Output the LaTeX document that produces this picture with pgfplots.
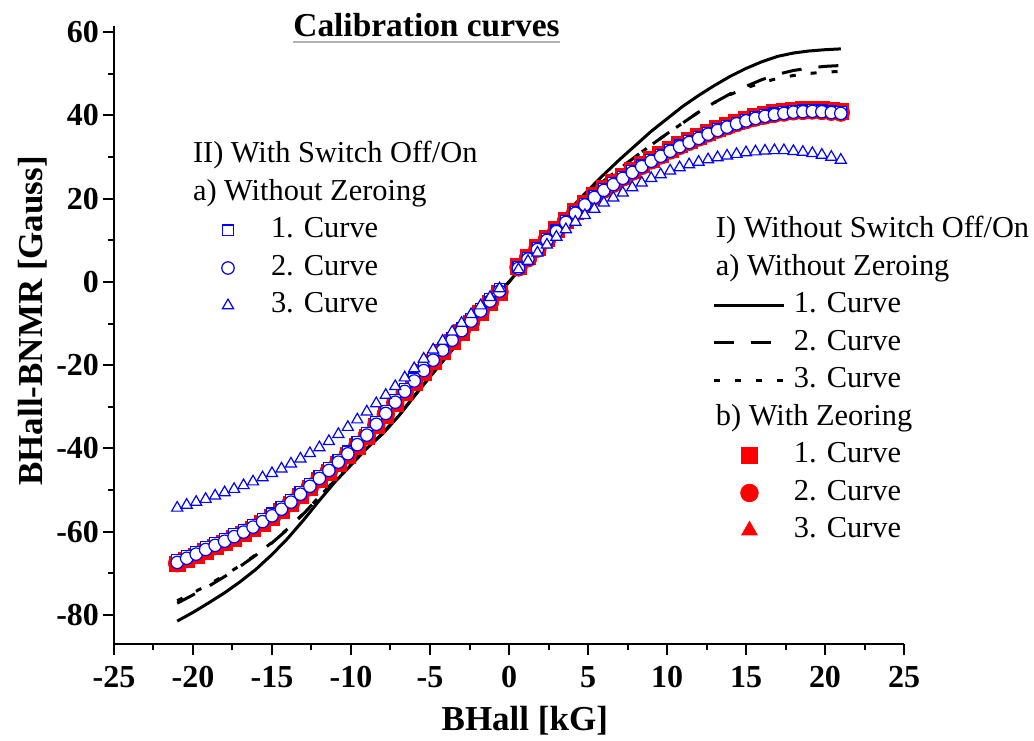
\documentclass[border=0pt]{standalone}
\usepackage{fontspec}
\setmainfont{Liberation Serif}
\usepackage{pgfplots}
\usepackage{pgfplotstable}
\pgfplotsset{compat=1.18}

\pgfplotstableread{
x c1 c2 c3
-21 -81.5 -77.2 -76.6
-20 -79.4 -75.2 -74.7
-19 -77.1 -73.1 -72.7
-18 -74.7 -70.8 -70.5
-17 -72.0 -68.3 -68.1
-16 -69.0 -65.6 -65.5
-15 -65.5 -62.7 -62.6
-14 -61.6 -59.4 -59.3
-13 -57.2 -55.7 -55.6
-12 -52.5 -51.6 -51.6
-11 -48.0 -47.6 -47.6
-10 -44.0 -43.8 -43.8
-9 -40.0 -39.9 -39.9
-8 -36.5 -36.4 -36.4
-7 -32.3 -32.2 -32.2
-6 -27.5 -27.4 -27.4
-5 -22.8 -22.7 -22.7
-4 -18.2 -18.1 -18.1
-3 -13.6 -13.5 -13.5
-2 -9.0 -9.0 -9.0
-1 -4.5 -4.5 -4.5
0 0 0 0
1 4.5 4.5 4.5
2 9.0 9.0 9.0
3 13.5 13.4 13.4
4 18.0 17.7 17.7
5 22.0 21.2 21.2
6 25.8 24.3 24.3
7 29.4 27.2 27.2
8 32.8 30.1 30.1
9 36.2 32.9 32.9
10 39.2 35.6 35.6
11 42.2 38.2 38.2
12 44.8 40.8 40.8
13 47.2 43.1 43.1
14 49.4 45.2 45.0
15 51.3 47.0 46.6
16 52.9 48.6 47.9
17 54.2 49.9 48.9
18 55.0 50.8 49.6
19 55.5 51.4 50.1
20 55.8 51.8 50.4
21 56.0 52.0 50.6
}\linedata

\pgfplotstableread{
x r1 r2 r3 b1 b2 b3
-21.0 -67.8 -67.6 -68.3 -66.8 -67.4 -54.3
-20.4 -66.8 -66.6 -67.3 -65.8 -66.4 -53.6
-19.8 -65.8 -65.6 -66.3 -64.8 -65.4 -52.9
-19.2 -64.7 -64.5 -65.2 -63.7 -64.3 -52.2
-18.6 -63.7 -63.5 -64.2 -62.7 -63.3 -51.4
-18.0 -62.7 -62.5 -63.2 -61.7 -62.3 -50.6
-17.4 -61.6 -61.4 -62.1 -60.6 -61.2 -49.8
-16.8 -60.5 -60.3 -61.0 -59.5 -60.1 -48.9
-16.2 -59.3 -59.1 -59.8 -58.3 -58.9 -48.0
-15.6 -58.0 -57.8 -58.5 -57.0 -57.6 -47.0
-15.0 -56.6 -56.4 -57.1 -55.6 -56.2 -46.0
-14.4 -55.0 -54.8 -55.5 -54.0 -54.6 -44.9
-13.8 -53.3 -53.1 -53.8 -52.3 -52.9 -43.7
-13.2 -51.4 -51.2 -51.9 -50.4 -51.0 -42.5
-12.6 -49.5 -49.3 -50.0 -48.5 -49.1 -41.2
-12.0 -47.6 -47.4 -48.1 -46.6 -47.2 -39.8
-11.4 -45.7 -45.5 -46.2 -44.7 -45.3 -38.3
-10.8 -43.7 -43.5 -44.2 -42.7 -43.3 -36.6
-10.2 -41.7 -41.5 -42.2 -40.7 -41.3 -34.9
-9.6 -39.5 -39.3 -40.0 -38.5 -39.1 -33.1
-9.0 -37.2 -37.0 -37.7 -36.2 -36.8 -31.2
-8.4 -34.6 -34.4 -35.1 -33.6 -34.2 -29.2
-7.8 -32.0 -31.8 -32.5 -31.0 -31.6 -27.2
-7.2 -29.3 -29.1 -29.8 -28.3 -28.9 -25.1
-6.6 -26.7 -26.5 -27.2 -25.7 -26.3 -23.0
-6.0 -24.2 -24.0 -24.7 -23.2 -23.8 -20.8
-5.4 -21.7 -21.5 -22.2 -20.7 -21.3 -18.5
-4.8 -19.2 -19.0 -19.7 -18.2 -18.8 -16.3
-4.2 -16.8 -16.6 -17.3 -15.8 -16.4 -14.2
-3.6 -14.4 -14.2 -14.9 -13.4 -14.0 -12.0
-3.0 -12.1 -11.9 -12.6 -11.1 -11.7 -9.9
-2.4 -9.8 -9.6 -10.3 -8.8 -9.4 -7.8
-1.8 -7.4 -7.2 -7.9 -6.4 -7.0 -5.7
-1.2 -5.0 -4.8 -5.5 -4.0 -4.6 -3.7
-0.6 -2.6 -2.4 -3.1 -1.6 -2.2 -1.6
0.6 3.8 3.5 3.0 3.6 3.3 3.0
1.2 6.0 5.7 5.2 5.8 5.5 5.0
1.8 8.3 8.0 7.5 8.1 7.8 7.0
2.4 10.5 10.2 9.7 10.3 10.0 8.9
3.0 12.6 12.3 11.8 12.4 12.1 10.8
3.6 14.8 14.5 14.0 14.6 14.3 12.6
4.2 17.0 16.7 16.2 16.8 16.5 14.4
4.8 19.0 18.7 18.2 18.8 18.5 16.0
5.4 20.8 20.5 20.0 20.6 20.3 17.5
6.0 22.5 22.2 21.7 22.3 22.0 19.0
6.6 23.9 23.6 23.1 23.7 23.4 20.2
7.2 25.4 25.1 24.6 25.2 24.9 21.4
7.8 26.8 26.5 26.0 26.6 26.3 22.7
8.4 28.2 27.9 27.4 28.0 27.7 23.8
9.0 29.5 29.2 28.7 29.3 29.0 24.9
9.6 30.7 30.4 29.9 30.5 30.2 25.8
10.2 31.9 31.6 31.1 31.7 31.4 26.7
10.8 33.0 32.7 32.2 32.8 32.5 27.5
11.4 34.0 33.7 33.2 33.8 33.5 28.2
12.0 35.0 34.7 34.2 34.8 34.5 28.8
12.6 36.0 35.7 35.2 35.8 35.5 29.4
13.2 36.9 36.6 36.1 36.7 36.4 29.9
13.8 37.7 37.4 36.9 37.5 37.2 30.3
14.4 38.5 38.2 37.7 38.3 38.0 30.7
15.0 39.2 38.9 38.4 39.0 38.7 31.1
15.6 39.8 39.5 39.0 39.6 39.3 31.3
16.2 40.3 40.0 39.5 40.1 39.8 31.5
16.8 40.7 40.4 39.9 40.5 40.2 31.6
17.4 41.0 40.7 40.2 40.8 40.5 31.6
18.0 41.3 41.0 40.5 41.1 40.8 31.4
18.6 41.4 41.1 40.6 41.2 40.9 31.2
19.2 41.5 41.2 40.7 41.3 41.0 30.9
19.8 41.4 41.1 40.6 41.2 40.9 30.5
20.4 41.2 40.9 40.4 41.0 40.7 30.0
21.0 41.0 40.7 40.2 40.8 40.5 29.3
}\markdata

\pgfplotsset{
  base/.style={
    scale only axis, width=395pt, height=309pt,
    xmin=-25, xmax=25, ymin=-87, ymax=61.5,
    clip mode=individual,
    legend cell align=left,
    legend image code/.code={%
      \path[draw=none] (0pt,0pt) -- (35pt,0pt);
      \draw[##1] (0pt,0pt) -- (35pt,0pt);},
  },
  mleg/.style={
    legend image code/.code={%
      \path[draw=none] (0pt,0pt) -- (35pt,0pt);
      \path[mark repeat=2,mark phase=2,##1,draw=none] plot coordinates {(0pt,0pt) (17.5pt,0pt) (35pt,0pt)};},
  },
  lgd/.style={
    draw=none, fill=none, inner sep=0pt, outer sep=0pt,
    row sep=4.25pt, column sep=4pt,
    nodes={inner sep=0pt, text height=11pt, text depth=3.5pt,
      font=\fontsize{15.2}{18}\selectfont},
  },
}
\newcommand{\hdr}[1]{\hspace*{-39pt}#1}

\begin{document}
\begin{tikzpicture}
\begin{axis}[base,
  axis x line*=bottom, axis y line*=left,
  axis line style={line width=1pt, black},
  tick align=outside,
  xtick={-25,-20,...,25}, ytick={-80,-60,...,60},
  minor x tick num=1, minor y tick num=1,
  major tick length=5.5pt, minor tick length=3pt,
  every tick/.style={line width=1pt, black},
  /pgf/number format/assume math mode=true,
  ticklabel style={font=\bfseries\fontsize{16}{16}\selectfont, inner sep=0pt},
  xticklabel shift=5.5pt, yticklabel shift=1.8pt,
  xlabel={BHall [kG]}, ylabel={BHall-BNMR [Gauss]},
  label style={font=\bfseries\fontsize{17.5}{18}\selectfont, inner sep=0pt},
  xlabel style={at={(axis description cs:0.520,-0.1392)}, anchor=base},
  ylabel style={at={(axis description cs:-0.0911,0.5227)}, anchor=base},
  legend style={lgd, at={(axis description cs:0.7582,0.6926)}, anchor=north west},
]
\addlegendimage{empty legend}\addlegendentry{\hdr{I) Without Switch Off/On}}
\addlegendimage{empty legend}\addlegendentry{\hdr{a) Without Zeroing}}
\addplot[black, line width=1.5pt] table[x=x,y=c1] {\linedata};
\addlegendentry{1. Curve}
\addplot[black, line width=1.5pt, dash pattern=on 10pt off 8.5pt] table[x=x,y=c2] {\linedata};
\addlegendentry{2. Curve}
\addplot[black, line width=1.5pt, dash pattern=on 3pt off 7.5pt] table[x=x,y=c3] {\linedata};
\addlegendentry{3. Curve}
\addlegendimage{empty legend}\addlegendentry{\hdr{b) With Zeoring}}
\addplot[mleg, only marks, red, mark=square*, mark size=3.9pt, mark options={draw=red, fill=red}] table[x=x,y=r1] {\markdata};
\addlegendentry{1. Curve}
\addplot[mleg, only marks, red, mark=*, mark size=4.4pt, mark options={draw=red, fill=red}] table[x=x,y=r2] {\markdata};
\addlegendentry{2. Curve}
\addplot[mleg, only marks, red, mark=triangle*, mark size=4.5pt, mark options={draw=red, fill=red}] table[x=x,y=r3] {\markdata};
\addlegendentry{3. Curve}
\node[font=\bfseries\fontsize{16.7}{18}\selectfont, inner sep=0pt, anchor=base] (ttl) at (axis description cs:0.3956,0.9822) {Calibration curves};
\draw[gray!60, line width=0.6pt] ([yshift=-2.5pt]ttl.base west) -- ([yshift=-2.5pt]ttl.base east);
\end{axis}
\begin{axis}[base, hide axis,
  legend style={lgd, at={(axis description cs:0.1,0.8139)}, anchor=north west},
]
\addlegendimage{empty legend}\addlegendentry{\hdr{II) With Switch Off/On}}
\addlegendimage{empty legend}\addlegendentry{\hdr{a) Without Zeroing}}
\addplot[mleg, only marks, blue, mark=square*, mark size=2.7pt, mark options={draw=blue, fill=white, line width=0.6pt}] table[x=x,y=b1] {\markdata};
\addlegendentry{1. Curve}
\addplot[mleg, only marks, blue, mark=*, mark size=3.1pt, mark options={draw=blue, fill=white, line width=0.6pt}] table[x=x,y=b2] {\markdata};
\addlegendentry{2. Curve}
\addplot[mleg, only marks, blue, mark=triangle*, mark size=3.2pt, mark options={draw=blue, fill=white, line width=0.6pt}] table[x=x,y=b3] {\markdata};
\addlegendentry{3. Curve}
\end{axis}
\pgfresetboundingbox
\path[use as bounding box] ([shift={(-57pt,-48pt)}]current axis.south west) rectangle ++(517pt,370pt);
\end{tikzpicture}
\end{document}
